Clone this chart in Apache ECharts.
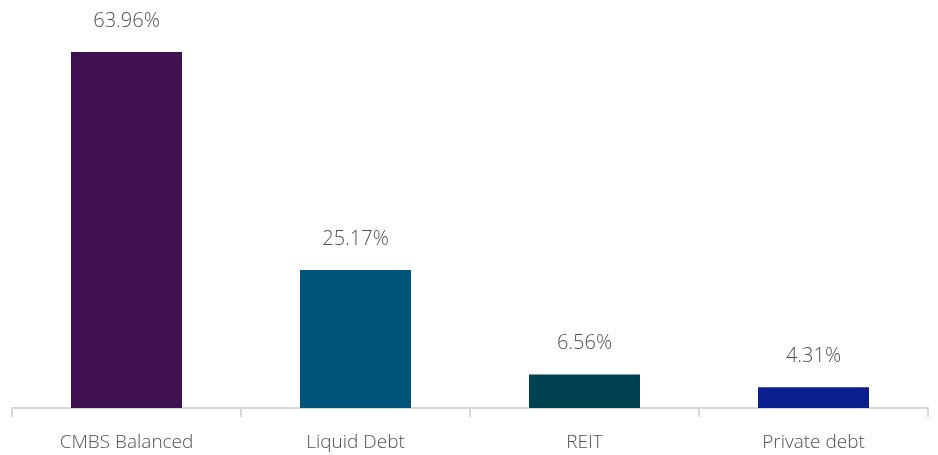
<!DOCTYPE html>
<html>
<head>
<meta charset="utf-8">
<script src="https://cdn.jsdelivr.net/npm/echarts@6/dist/echarts.min.js"></script>
<style>
  html, body { margin: 0; padding: 0; background: #fff; }
  #chart { width: 938px; height: 455px; }
</style>
</head>
<body>
<div id="chart"></div>
<script>
'use strict';
// allocation by strategy (%)
const categories = ['CMBS Balanced', 'Liquid Debt', 'REIT', 'Private debt'];
const shares = [63.96, 25.17, 6.56, 4.31];
const barColors = ['#3f1150', '#005479', '#00424f', '#0b1f8f'];

const textStyle = {color: '#505050', fontFamily: 'Open Sans', fontWeight: 300, fontSize: 19};

const chart = echarts.init(document.getElementById('chart'));
chart.setOption({
  animation: false,
  grid: {left: 12, right: 10, top: 18, bottom: 47, containLabel: false},
  xAxis: {
    type: 'category',
    data: categories,
    axisLine: {lineStyle: {color: '#d9d9d9', width: 2}},
    axisTick: {show: true, length: 9, lineStyle: {color: '#d9d9d9', width: 2}},
    axisLabel: Object.assign({margin: 25}, textStyle)
  },
  yAxis: {
    type: 'value',
    // the source chart's base sits a little below the axis line
    min: 0.6,
    max: 70,
    show: false,
    splitLine: {show: false}
  },
  series: [{
    type: 'bar',
    barWidth: 111,
    clip: true,
    data: shares.map((v, i) => ({value: v, itemStyle: {color: barColors[i]}})),
    label: Object.assign({}, textStyle, {
      show: true,
      position: 'top',
      distance: 21,
      fontSize: 20,
      formatter: (p) => p.value.toFixed(2) + '%'
    })
  }]
});
</script>
</body>
</html>
